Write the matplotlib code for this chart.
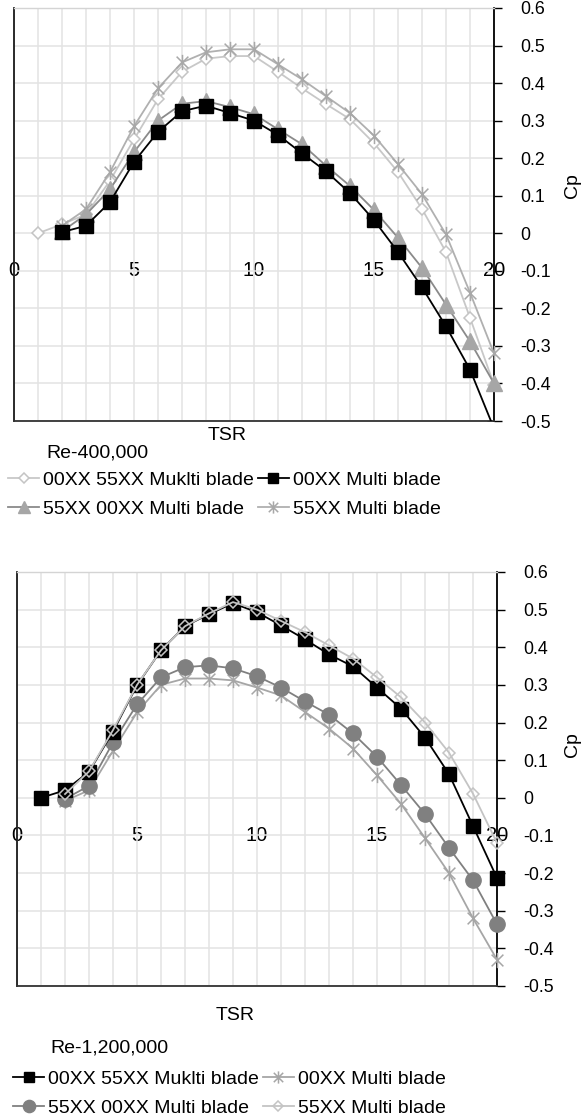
import matplotlib
matplotlib.use("Agg")
import matplotlib.pyplot as plt
from matplotlib.path import Path

plt.rcParams['font.family'] = ['Liberation Sans', 'DejaVu Sans']

# ---------------- data ----------------
tsr_1_20 = list(range(1, 21))
tsr_2_20 = list(range(2, 21))
x_ticks = [0, 5, 10, 15, 20]
y_ticks = [0.6, 0.5, 0.4, 0.3, 0.2, 0.1, 0, -0.1, -0.2, -0.3, -0.4, -0.5]
y_tick_labels = ["0.6", "0.5", "0.4", "0.3", "0.2", "0.1", "0", "-0.1", "-0.2", "-0.3", "-0.4", "-0.5"]

# Re-400,000
top_title = "Re-400,000"
top_00_55 = [0.0, 0.024, 0.05, 0.14, 0.25, 0.357, 0.43, 0.465, 0.472, 0.472, 0.43, 0.386,
             0.344, 0.304, 0.24, 0.163, 0.065, -0.05, -0.225, -0.403]          # x 1..20
top_00 = [0.003, 0.02, 0.083, 0.19, 0.27, 0.325, 0.34, 0.32, 0.30, 0.262, 0.213,
          0.165, 0.107, 0.035, -0.05, -0.144, -0.248, -0.363, -0.52]            # x 2..20
top_55_00 = [0.005, 0.05, 0.117, 0.216, 0.30, 0.345, 0.352, 0.336, 0.317, 0.277, 0.237,
             0.18, 0.126, 0.062, -0.012, -0.092, -0.19, -0.288, -0.4]           # x 2..20
top_55 = [0.02, 0.064, 0.163, 0.285, 0.386, 0.455, 0.482, 0.49, 0.49, 0.45, 0.41,
          0.365, 0.32, 0.26, 0.184, 0.104, -0.003, -0.158, -0.32]               # x 2..20

# Re-1,200,000
bot_title = "Re-1,200,000"
bot_00_55 = [0.0, 0.02, 0.069, 0.176, 0.299, 0.392, 0.456, 0.488, 0.517, 0.493, 0.458,
             0.421, 0.381, 0.349, 0.293, 0.237, 0.16, 0.063, -0.075, -0.213]    # x 1..20
bot_00 = [-0.008, 0.02, 0.125, 0.227, 0.30, 0.317, 0.317, 0.312, 0.293, 0.272, 0.228,
          0.184, 0.131, 0.06, -0.016, -0.107, -0.2, -0.32, -0.43]               # x 2..20
bot_55_00 = [-0.003, 0.032, 0.147, 0.248, 0.32, 0.347, 0.352, 0.344, 0.323, 0.293, 0.256,
             0.221, 0.171, 0.109, 0.034, -0.043, -0.133, -0.219, -0.336]        # x 2..20
bot_55 = [0.01, 0.07, 0.18, 0.30, 0.392, 0.456, 0.49, 0.52, 0.50, 0.47, 0.44,
          0.405, 0.37, 0.32, 0.267, 0.2, 0.12, 0.011, -0.12]                    # x 2..20

lab_00_55 = "00XX 55XX Muklti blade"
lab_00 = "00XX Multi blade"
lab_55_00 = "55XX 00XX Multi blade"
lab_55 = "55XX Multi blade"

# ---------------- styles ----------------
star = Path([(-1, -1), (1, 1), (-1, 1), (1, -1), (0, -1.3), (0, 1.3)],
            [Path.MOVETO, Path.LINETO, Path.MOVETO, Path.LINETO, Path.MOVETO, Path.LINETO])

W, H = 582, 1120
fig = plt.figure(figsize=(W / 100, H / 100), dpi=100)

FS = 14
XFS = 14.5
YFS = 12.8


def make_axes(left_px, top_px, bottom_px):
    ax = fig.add_axes([left_px / W, 1 - bottom_px / H, 480 / W, (bottom_px - top_px) / H])
    ax.set_xlim(0, 20)
    ax.set_ylim(-0.5, 0.6)
    ax.set_xticks(range(0, 21))
    ax.set_yticks(y_ticks)
    ax.grid(True, color='#e3e3e3', lw=1.1)
    ax.set_axisbelow(True)
    ax.tick_params(axis='x', which='both', length=0, labelbottom=False)
    ax.yaxis.tick_right()
    ax.set_yticklabels(y_tick_labels)
    ax.tick_params(axis='y', direction='out', length=6, width=1, color='#000000',
                   pad=12.8, labelsize=YFS, left=False, right=True)
    ax.spines['top'].set_color('#d4d4d4')
    ax.spines['right'].set_color('#000000')
    ax.spines['left'].set_color('#1a1a1a')
    ax.spines['bottom'].set_color('#333333')
    for s in ax.spines.values():
        s.set_linewidth(1.3)
    ax.spines['top'].set_linewidth(1.0)
    sec = ax.secondary_xaxis(0, transform=ax.transData)
    sec.set_xticks(x_ticks)
    sec.set_xticklabels([str(v) for v in x_ticks])
    sec.tick_params(length=0, pad=20, labelsize=XFS)
    sec.spines['bottom'].set_visible(False)
    return ax


# ---------------- top chart ----------------
ax1 = make_axes(14, 8, 421)
h_d = ax1.plot(tsr_1_20, top_00_55, color='#c8c8c8', lw=1.3, marker='D', ms=6.6,
               mfc='white', mec='#c4c4c4', mew=1.1, zorder=3, clip_on=False)[0]
h_st = ax1.plot(tsr_2_20, top_55, color='#b0b0b0', lw=1.3, marker=star, ms=11,
                mfc='none', mec='#a8a8a8', mew=1.1, zorder=4, clip_on=False)[0]
h_t = ax1.plot(tsr_2_20, top_55_00, color='#8a8a8a', lw=1.3, marker='^', ms=11.5,
               mfc='#a6a6a6', mec='#a6a6a6', zorder=5, clip_on=False)[0]
h_s = ax1.plot(tsr_2_20, top_00, color='#000000', lw=1.3, marker='s', ms=9.4,
               mfc='#000000', mec='#000000', zorder=6, clip_on=True)[0]

fig.text(227 / W, 1 - 435 / H, "TSR", ha='center', va='center', fontsize=FS)
fig.text(573 / W, 1 - 186 / H, "Cp", ha='center', va='center', rotation=90, fontsize=FS)
fig.text(46 / W, 1 - 453 / H, top_title, ha='left', va='center', fontsize=FS)

leg_kw = dict(ncol=2, frameon=False, fontsize=FS, handlelength=1.6, handletextpad=0.2,
              columnspacing=0.2, labelspacing=0.6, borderpad=0, borderaxespad=0,
              loc='upper left', numpoints=1, markerscale=0.8)
fig.legend([h_d, h_t, h_s, h_st], [lab_00_55, lab_55_00, lab_00, lab_55],
           bbox_to_anchor=(8 / W, 1 - 471 / H), **leg_kw)

# ---------------- bottom chart ----------------
ax2 = make_axes(17, 572, 986)
g_st = ax2.plot(tsr_2_20, bot_00, color='#a6a6a6', lw=1.3, marker=star, ms=11,
                mfc='none', mec='#a6a6a6', mew=1.1, zorder=3, clip_on=False)[0]
g_c = ax2.plot(tsr_2_20, bot_55_00, color='#808080', lw=1.3, marker='o', ms=11,
               mfc='#808080', mec='#808080', zorder=4, clip_on=False)[0]
g_s = ax2.plot(tsr_1_20, bot_00_55, color='#000000', lw=1.3, marker='s', ms=9.4,
               mfc='#000000', mec='#000000', zorder=5, clip_on=False)[0]
g_d = ax2.plot(tsr_2_20, bot_55, color='#c4c4c4', lw=1.3, marker='D', ms=6.6,
               mfc='none', mec='#c4c4c4', mew=1.1, zorder=6, clip_on=False)[0]

fig.text(235 / W, 1 - 1015 / H, "TSR", ha='center', va='center', fontsize=FS)
fig.text(573 / W, 1 - 745 / H, "Cp", ha='center', va='center', rotation=90, fontsize=FS)
fig.text(50 / W, 1 - 1048 / H, bot_title, ha='left', va='center', fontsize=FS)

fig.legend([g_s, g_c, g_st, g_d], [lab_00_55, lab_55_00, lab_00, lab_55],
           bbox_to_anchor=(13 / W, 1 - 1070 / H), **leg_kw)

fig.savefig("out.png", dpi=100)
